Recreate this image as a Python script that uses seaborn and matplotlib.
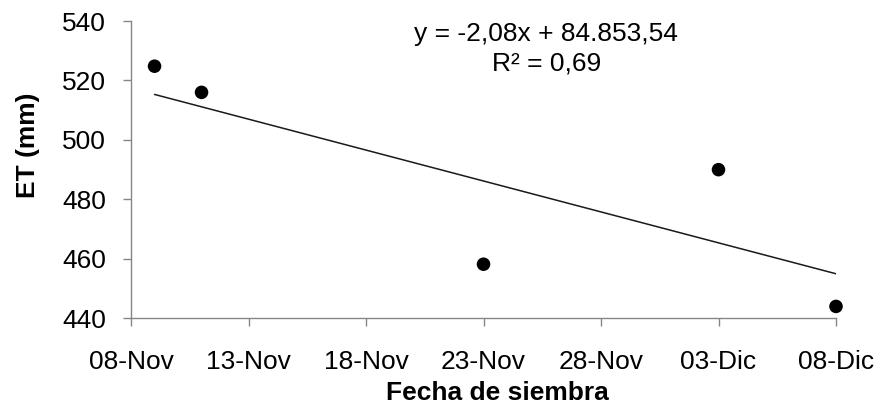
import numpy as np
import pandas as pd
import matplotlib
matplotlib.use("Agg")
import matplotlib.pyplot as plt
import seaborn as sns

# ---- data ----
sowing_dates = ["2010-11-09", "2010-11-11", "2010-11-23", "2010-12-03", "2010-12-08"]
et_mm = [524.8, 516.0, 458.2, 490.0, 444.0]
tick_dates = ["2010-11-08", "2010-11-13", "2010-11-18", "2010-11-23",
              "2010-11-28", "2010-12-03", "2010-12-08"]
tick_labels = ["08-Nov", "13-Nov", "18-Nov", "23-Nov", "28-Nov", "03-Dic", "08-Dic"]
y_ticks = [440, 460, 480, 500, 520, 540]
trend_slope_per_day = -2.08
equation_text = "y = -2,08x + 84.853,54\nR² = 0,69"
x_label = "Fecha de siembra"
y_label = "ET (mm)"

sns.set_theme(style="white")
plt.rcParams["font.family"] = ["Liberation Sans", "DejaVu Sans"]
FS = 19
GRAY = "#868686"

df = pd.DataFrame({"fecha": pd.to_datetime(sowing_dates), "et": et_mm})

fig = plt.figure(figsize=(8.8, 4.04), dpi=100)
ax = fig.add_axes([0.1489, 0.2121, 0.8011, 0.7359])

# linear trend with the slope shown in the equation, through the data centroid
days = (df["fecha"] - df["fecha"].min()).dt.days.to_numpy()
xm, ym = days.mean(), df["et"].mean()
trend_days = np.array([days.min(), days.max()])
trend = pd.DataFrame({
    "fecha": df["fecha"].min() + pd.to_timedelta(trend_days, unit="D"),
    "et": ym + trend_slope_per_day * (trend_days - xm),
})
sns.lineplot(data=trend, x="fecha", y="et", color="#1a1a1a", lw=1.1, ax=ax)
sns.scatterplot(data=df, x="fecha", y="et", color="black", s=95,
                edgecolor="none", ax=ax, zorder=3, clip_on=False)

tick_dt = pd.to_datetime(tick_dates)
ax.set_xlim(tick_dt[0], tick_dt[-1])
ax.set_ylim(y_ticks[0], y_ticks[-1])
ax.set_xticks(tick_dt)
ax.set_xticklabels(tick_labels)
ax.set_yticks(y_ticks)

sns.despine(ax=ax)
for s in ["left", "bottom"]:
    ax.spines[s].set_color(GRAY)
    ax.spines[s].set_linewidth(1.0)
ax.tick_params(axis="both", direction="out", length=6, width=1.0, color=GRAY,
               labelsize=FS, labelcolor="black", bottom=True, left=True)
ax.tick_params(axis="x", pad=17)
ax.tick_params(axis="y", pad=12)

ax.set_xlabel(x_label, fontsize=FS, fontweight="bold", color="black")
ax.set_ylabel(y_label, fontsize=FS, fontweight="bold", color="black")
ax.xaxis.set_label_coords(0.519, -0.252)
ax.xaxis.label.set_verticalalignment("center")
ax.yaxis.set_label_coords(-0.146, 0.583)
ax.yaxis.label.set_verticalalignment("center")

ax.text(0.589, 0.908, equation_text, transform=ax.transAxes, ha="center",
        va="center", multialignment="center", fontsize=FS, color="black",
        linespacing=1.3)

fig.savefig("out.png", dpi=100)
